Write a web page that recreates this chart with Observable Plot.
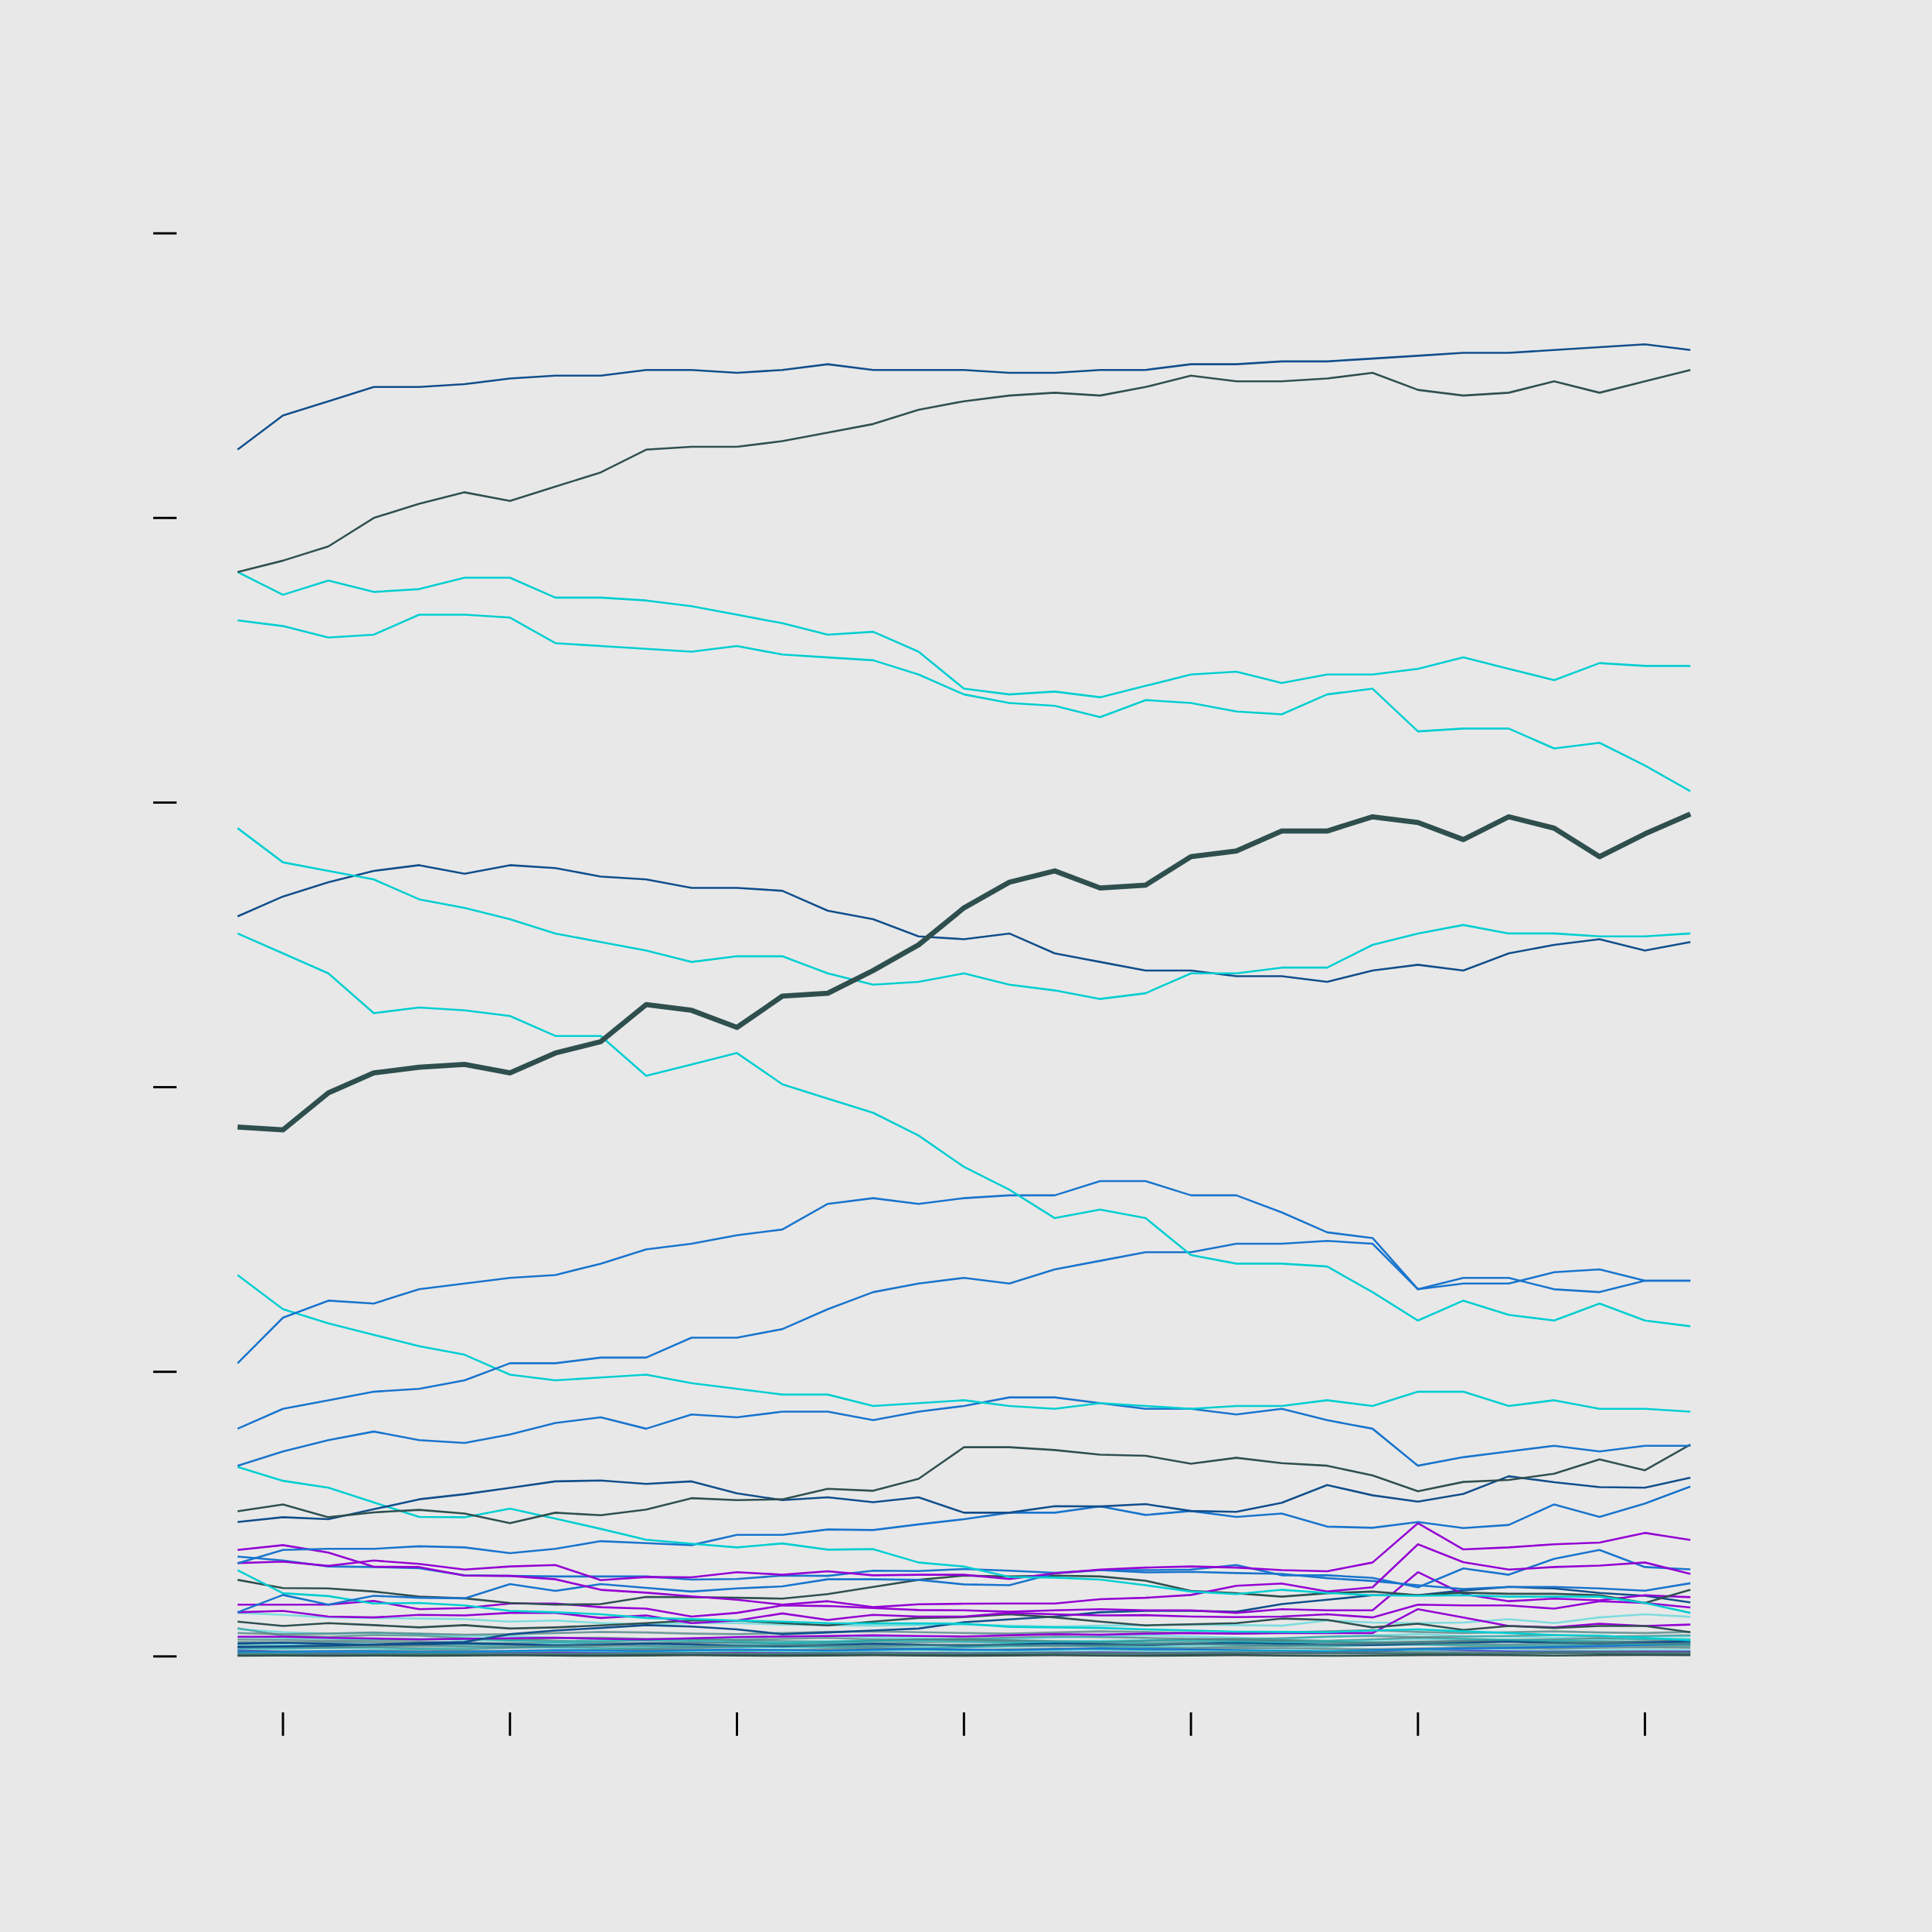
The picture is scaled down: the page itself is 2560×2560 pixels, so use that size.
<!DOCTYPE html>
<html><head><meta charset="utf-8">
<script src="https://cdn.jsdelivr.net/npm/d3@7"></script>
<script src="https://cdn.jsdelivr.net/npm/@observablehq/plot@0.6"></script>
<style>
html,body{margin:0;padding:0;background:#E8E8E8;}
#chart svg{display:block;}
</style></head><body><div id="chart"></div>
<script>
const years = [1984,1985,1986,1987,1988,1989,1990,1991,1992,1993,1994,1995,1996,1997,1998,1999,2000,2001,2002,2003,2004,2005,2006,2007,2008,2009,2010,2011,2012,2013,2014,2015,2016];
const xTicks = [1985,1990,1995,2000,2005,2010,2015];
const yTicks = [0,10,20,30,40,50];

const lineA = [42.4,43.6,44.1,44.6,44.6,44.7,44.9,45.0,45.0,45.2,45.2,45.1,45.2,45.4,45.2,45.2,45.2,45.1,45.1,45.2,45.2,45.4,45.4,45.5,45.5,45.6,45.7,45.8,45.8,45.9,46.0,46.1,45.9];
const lineB = [38.1,38.5,39.0,40.0,40.5,40.9,40.6,41.1,41.6,42.4,42.5,42.5,42.7,43.0,43.3,43.8,44.1,44.3,44.4,44.3,44.6,45.0,44.8,44.8,44.9,45.1,44.5,44.3,44.4,44.8,44.4,44.8,45.2];
const lineC = [38.1,37.3,37.8,37.4,37.5,37.9,37.9,37.2,37.2,37.1,36.9,36.6,36.3,35.9,36.0,35.3,34.0,33.8,33.9,33.7,34.1,34.5,34.6,34.2,34.5,34.5,34.7,35.1,34.7,34.3,34.9,34.8,34.8];
const lineD = [36.4,36.2,35.8,35.9,36.6,36.6,36.5,35.6,35.5,35.4,35.3,35.5,35.2,35.1,35.0,34.5,33.8,33.5,33.4,33.0,33.6,33.5,33.2,33.1,33.8,34.0,32.5,32.6,32.6,31.9,32.1,31.3,30.4];
const lineE = [18.6,18.5,19.8,20.5,20.7,20.8,20.5,21.2,21.6,22.9,22.7,22.1,23.2,23.3,24.1,25.0,26.3,27.2,27.6,27.0,27.1,28.1,28.3,29.0,29.0,29.5,29.3,28.7,29.5,29.1,28.1,28.9,29.6];
const lineF = [29.1,27.9,27.6,27.3,26.6,26.3,25.9,25.4,25.1,24.8,24.4,24.6,24.6,24.0,23.6,23.7,24.0,23.6,23.4,23.1,23.3,24.0,24.0,24.2,24.2,25.0,25.4,25.7,25.4,25.4,25.3,25.3,25.4];
const lineG = [26.0,26.7,27.2,27.6,27.8,27.5,27.8,27.7,27.4,27.3,27.0,27.0,26.9,26.2,25.9,25.3,25.2,25.4,24.7,24.4,24.1,24.1,23.9,23.9,23.7,24.1,24.3,24.1,24.7,25.0,25.2,24.8,25.1];
const lineH = [25.4,24.7,24.0,22.6,22.8,22.7,22.5,21.8,21.8,20.4,20.8,21.2,20.1,19.6,19.1,18.3,17.2,16.4,15.4,15.7,15.4,14.1,13.8,13.8,13.7,12.8,11.8,12.5,12.0,11.8,12.4,11.8,11.6];
const lineI = [10.3,11.9,12.5,12.4,12.9,13.1,13.3,13.4,13.8,14.3,14.5,14.8,15.0,15.9,16.1,15.9,16.1,16.2,16.2,16.7,16.7,16.2,16.2,15.6,14.9,14.7,12.9,13.3,13.3,12.9,12.8,13.2,13.2];
const lineJ = [8.0,8.7,9.0,9.3,9.4,9.7,10.3,10.3,10.5,10.5,11.2,11.2,11.5,12.2,12.8,13.1,13.3,13.1,13.6,13.9,14.2,14.2,14.5,14.5,14.6,14.5,12.9,13.1,13.1,13.5,13.6,13.2,13.2];
const lineK = [13.4,12.2,11.7,11.3,10.9,10.6,9.9,9.7,9.8,9.9,9.6,9.4,9.2,9.2,8.8,8.9,9.0,8.8,8.7,8.9,8.8,8.7,8.8,8.8,9.0,8.8,9.3,9.3,8.8,9.0,8.7,8.7,8.6];
const lineM = [6.7,7.2,7.6,7.9,7.6,7.5,7.8,8.2,8.4,8.0,8.5,8.4,8.6,8.6,8.3,8.6,8.8,9.1,9.1,8.9,8.7,8.7,8.5,8.7,8.3,8.0,6.7,7.0,7.2,7.4,7.2,7.4,7.4];
const lineN = [5.10,5.34,4.89,5.06,5.15,5.02,4.68,5.05,4.96,5.16,5.56,5.49,5.52,5.89,5.82,6.24,7.35,7.35,7.25,7.09,7.05,6.77,6.98,6.79,6.70,6.36,5.80,6.13,6.20,6.42,6.92,6.54,7.44];
const lineO = [4.72,4.89,4.82,5.17,5.52,5.70,5.92,6.15,6.18,6.06,6.15,5.73,5.49,5.59,5.42,5.59,5.05,5.05,5.28,5.27,5.35,5.11,5.08,5.40,6.02,5.66,5.44,5.71,6.33,6.12,5.95,5.93,6.28];
const lineL = [6.66,6.17,5.93,5.41,4.90,4.89,5.19,4.84,4.48,4.10,3.96,3.83,3.97,3.75,3.77,3.30,3.16,2.79,2.77,2.70,2.50,2.28,2.19,2.34,2.23,2.15,2.13,2.15,2.10,2.10,2.10,1.88,1.53];
const lineP = [3.27,3.74,3.78,3.78,3.87,3.83,3.63,3.78,4.05,3.98,3.91,4.27,4.27,4.46,4.44,4.64,4.82,5.05,5.05,5.27,4.97,5.11,4.90,5.02,4.56,4.52,4.72,4.51,4.62,5.34,4.90,5.37,5.97];
const lineQ = [3.74,3.91,3.65,3.15,3.14,2.84,2.83,2.71,2.34,2.24,2.11,1.99,1.82,1.94,1.73,1.83,1.85,1.86,1.86,2.01,2.06,2.16,2.48,2.56,2.28,2.43,3.94,3.31,3.05,3.14,3.19,3.30,2.90];
const lineS = [3.28,3.33,3.18,3.37,3.25,3.05,3.16,3.21,2.68,2.79,2.78,2.96,2.87,2.99,2.85,2.87,2.87,2.72,2.92,3.05,3.12,3.16,3.12,3.03,2.99,3.30,4.68,3.76,3.83,3.94,4.00,4.34,4.09];
const lineR = [3.51,3.37,3.16,3.14,3.10,2.85,2.83,2.81,2.81,2.81,2.70,2.72,2.84,2.83,3.01,3.00,3.07,3.01,2.94,3.03,3.03,3.05,3.21,2.85,2.85,2.76,2.43,3.09,2.87,3.43,3.74,3.14,3.06];
const lineW = [1.55,2.16,1.82,2.13,2.06,2.04,2.54,2.30,2.54,2.41,2.28,2.39,2.46,2.71,2.71,2.69,2.53,2.50,2.92,3.03,2.95,2.97,2.93,2.90,2.75,2.65,2.50,2.37,2.44,2.44,2.39,2.31,2.57];
const lineT = [3.03,2.22,2.12,1.86,1.88,1.79,1.60,1.55,1.48,1.35,1.31,1.26,1.22,1.17,1.16,1.16,1.15,1.04,1.02,1.00,0.95,0.91,0.87,0.86,0.85,0.91,0.95,0.88,0.82,0.75,0.73,0.65,0.57];
const lineU = [2.69,2.40,2.39,2.28,2.10,2.04,1.88,1.82,1.84,2.09,2.08,2.06,2.03,2.19,2.44,2.69,2.84,2.81,2.84,2.81,2.66,2.30,2.22,2.10,2.22,2.28,2.15,2.24,2.20,2.20,2.15,1.88,2.34];
const lineV = [1.82,1.82,1.82,1.95,1.66,1.70,1.86,1.86,1.73,1.68,1.40,1.53,1.79,1.77,1.70,1.63,1.62,1.57,1.62,1.66,1.62,1.62,1.53,1.66,1.62,1.62,2.96,2.19,1.94,2.03,1.97,2.15,2.08];
const lineX = [1.55,1.60,1.40,1.37,1.46,1.44,1.53,1.53,1.35,1.44,1.17,1.26,1.51,1.28,1.46,1.40,1.40,1.53,1.48,1.44,1.45,1.40,1.38,1.40,1.48,1.37,1.82,1.79,1.79,1.68,1.94,1.88,1.72];
const lineY = [1.22,1.07,1.17,1.10,1.02,1.10,0.98,1.02,1.09,1.17,1.26,1.26,1.17,1.09,1.22,1.35,1.38,1.48,1.37,1.22,1.09,1.13,1.17,1.33,1.28,1.02,1.15,0.93,1.07,1.00,1.07,1.07,0.85];
const lineDB = [0.33,0.35,0.38,0.42,0.47,0.51,0.78,0.91,1.00,1.10,1.05,0.95,0.78,0.84,0.91,0.98,1.20,1.30,1.40,1.55,1.60,1.60,1.57,1.84,1.99,2.15,2.15,2.32,2.44,2.39,2.23,2.13,1.90];
const lineLC = [1.53,1.46,1.37,1.35,1.33,1.31,1.22,1.26,1.17,1.13,1.17,1.17,1.12,1.10,1.08,1.10,1.12,1.08,1.05,1.08,1.10,1.12,1.10,1.08,1.26,1.19,1.17,1.19,1.31,1.17,1.37,1.48,1.39];
const lineDD = [0.69,0.69,0.65,0.63,0.60,0.62,0.64,0.66,0.62,0.60,0.64,0.68,0.70,0.72,0.74,0.72,0.70,0.74,0.78,0.76,0.80,0.82,0.80,0.82,0.82,0.82,1.66,1.37,1.07,1.02,1.15,1.07,1.12];
const low1 = [0.99,0.73,0.69,0.75,0.73,0.64,0.56,0.64,0.66,0.62,0.60,0.58,0.62,0.65,0.60,0.58,0.62,0.66,0.70,0.68,0.65,0.62,0.60,0.64,0.70,0.72,0.68,0.70,0.72,0.75,0.70,0.72,0.74];
const low2 = [0.96,0.85,0.80,0.82,0.78,0.70,0.72,0.66,0.60,0.58,0.62,0.66,0.70,0.72,0.68,0.64,0.60,0.62,0.66,0.70,0.74,0.70,0.66,0.62,0.68,0.74,0.78,0.72,0.70,0.66,0.64,0.70,0.72];
const low3 = [0.51,0.50,0.49,0.50,0.52,0.48,0.47,0.50,0.47,0.45,0.48,0.50,0.46,0.44,0.47,0.50,0.52,0.49,0.46,0.44,0.47,0.50,0.53,0.55,0.52,0.49,0.50,0.54,0.56,0.52,0.50,0.53,0.55];
const low4 = [0.33,0.35,0.38,0.40,0.42,0.44,0.40,0.38,0.42,0.47,0.51,0.48,0.45,0.50,0.55,0.60,0.58,0.55,0.52,0.50,0.55,0.60,0.62,0.58,0.55,0.60,0.66,0.62,0.58,0.60,0.64,0.60,0.58];
const low5 = [0.22,0.16,0.13,0.14,0.12,0.13,0.12,0.14,0.12,0.11,0.12,0.13,0.12,0.12,0.13,0.12,0.11,0.12,0.13,0.14,0.13,0.12,0.12,0.13,0.14,0.16,0.26,0.22,0.18,0.17,0.17,0.17,0.17];
const low6 = [0.30,0.28,0.30,0.32,0.28,0.26,0.30,0.33,0.30,0.27,0.29,0.32,0.35,0.33,0.30,0.28,0.32,0.36,0.38,0.35,0.32,0.30,0.34,0.38,0.36,0.40,0.42,0.38,0.35,0.37,0.40,0.38,0.36];
const low7 = [0.40,0.42,0.45,0.43,0.40,0.38,0.42,0.46,0.44,0.41,0.39,0.42,0.45,0.48,0.45,0.42,0.40,0.43,0.47,0.50,0.47,0.44,0.42,0.46,0.50,0.48,0.45,0.49,0.53,0.50,0.47,0.50,0.52];
const low8 = [0.05,0.06,0.05,0.06,0.07,0.06,0.05,0.06,0.07,0.08,0.07,0.06,0.07,0.08,0.09,0.08,0.07,0.08,0.09,0.10,0.09,0.08,0.09,0.10,0.11,0.10,0.09,0.10,0.11,0.12,0.11,0.10,0.11];
const low9 = [0.20,0.18,0.19,0.21,0.22,0.20,0.18,0.20,0.23,0.25,0.22,0.20,0.22,0.25,0.27,0.24,0.22,0.25,0.28,0.26,0.23,0.25,0.28,0.30,0.27,0.25,0.28,0.31,0.29,0.27,0.30,0.32,0.30];
const low10 = [0.15,0.16,0.18,0.17,0.15,0.16,0.19,0.22,0.20,0.18,0.21,0.24,0.22,0.20,0.23,0.26,0.24,0.22,0.25,0.28,0.26,0.24,0.22,0.20,0.18,0.22,0.25,0.28,0.30,0.33,0.36,0.40,0.44];
const low11 = [0.12,0.13,0.15,0.14,0.12,0.13,0.16,0.18,0.16,0.14,0.17,0.19,0.17,0.15,0.18,0.20,0.18,0.16,0.19,0.21,0.19,0.17,0.20,0.22,0.20,0.18,0.21,0.23,0.21,0.19,0.22,0.24,0.22];
const low12 = [0.08,0.09,0.10,0.09,0.08,0.10,0.11,0.10,0.09,0.11,0.12,0.11,0.10,0.12,0.13,0.12,0.11,0.13,0.14,0.13,0.12,0.14,0.15,0.14,0.13,0.15,0.16,0.15,0.14,0.16,0.17,0.16,0.15];
const low13 = [0.10,0.09,0.08,0.09,0.10,0.09,0.08,0.09,0.10,0.11,0.10,0.09,0.10,0.11,0.10,0.09,0.10,0.11,0.10,0.09,0.10,0.11,0.12,0.11,0.10,0.11,0.12,0.11,0.10,0.11,0.12,0.11,0.10];
const low14 = [0.60,0.58,0.55,0.57,0.60,0.62,0.58,0.55,0.53,0.56,0.59,0.57,0.54,0.52,0.55,0.58,0.60,0.57,0.54,0.52,0.55,0.58,0.56,0.53,0.50,0.48,0.52,0.55,0.58,0.56,0.53,0.50,0.48];
const low15 = [0.25,0.27,0.30,0.28,0.26,0.29,0.32,0.30,0.28,0.31,0.34,0.32,0.30,0.33,0.36,0.34,0.32,0.35,0.38,0.36,0.34,0.37,0.40,0.38,0.36,0.39,0.42,0.40,0.38,0.41,0.44,0.42,0.40];
const low16 = [0.02,0.03,0.02,0.03,0.02,0.03,0.04,0.03,0.02,0.03,0.04,0.03,0.02,0.03,0.04,0.03,0.02,0.03,0.04,0.03,0.02,0.03,0.04,0.03,0.02,0.03,0.04,0.05,0.04,0.03,0.04,0.05,0.04];
const low17 = [0.45,0.48,0.44,0.40,0.42,0.46,0.43,0.39,0.41,0.45,0.42,0.38,0.36,0.40,0.44,0.41,0.38,0.42,0.46,0.43,0.40,0.44,0.48,0.45,0.42,0.40,0.44,0.48,0.52,0.48,0.45,0.49,0.53];
const low18 = [0.82,0.78,0.80,0.84,0.80,0.76,0.78,0.82,0.86,0.84,0.80,0.78,0.82,0.86,0.88,0.85,0.82,0.80,0.84,0.88,0.86,0.82,0.80,0.84,0.88,0.92,0.86,0.82,0.85,0.88,0.84,0.82,0.86];
const low19 = [0.36,0.34,0.33,0.35,0.37,0.35,0.33,0.36,0.38,0.36,0.34,0.37,0.40,0.38,0.36,0.39,0.42,0.40,0.37,0.39,0.42,0.44,0.41,0.39,0.42,0.45,0.47,0.44,0.42,0.45,0.47,0.45,0.43];
const low20 = [0.68,0.64,0.62,0.60,0.62,0.58,0.55,0.52,0.54,0.57,0.55,0.52,0.50,0.53,0.56,0.54,0.51,0.49,0.52,0.55,0.58,0.55,0.52,0.50,0.53,0.57,0.60,0.62,0.59,0.56,0.58,0.61,0.63];

const seriesList = [
  ["low1","teal",low1],["low2","faintcyan",low2],["low3","teal",low3],["low4","teal",low4],
  ["low5","purple",low5],["low6","teal",low6],["low7","faintcyan",low7],["low8","slate",low8],
  ["low9","teal",low9],["low10","blue",low10],["low11","faintcyan",low11],["low12","teal",low12],
  ["low13","teal",low13],["low14","teal",low14],["low15","faintcyan",low15],["low16","slate",low16],
  ["low17","darkblue",low17],["low18","teal",low18],["low19","teal",low19],["low20","faintcyan",low20],
  ["LC","faintcyan",lineLC],["DD","purple",lineDD],["DB","darkblue",lineDB],["Y","slate",lineY],
  ["X","purple",lineX],["V","purple",lineV],["U","slate",lineU],["T","cyan",lineT],["W","blue",lineW],
  ["R","blue",lineR],["S","purple",lineS],["Q","purple",lineQ],["P","blue",lineP],["L","cyan",lineL],
  ["O","darkblue",lineO],["N","slate",lineN],["M","blue",lineM],["K","cyan",lineK],["J","blue",lineJ],
  ["I","blue",lineI],["H","cyan",lineH],["G","darkblue",lineG],["F","cyan",lineF],["D","cyan",lineD],
  ["C","cyan",lineC],["B","slate",lineB],["A","darkblue",lineA],["E","highlight",lineE]
];
const rows = seriesList.flatMap(([name, group, vals]) => vals.map((v, i) => ({name, group, year: years[i], value: v})));

const styles = {
  teal: {stroke: "#4A7F82", strokeWidth: 2.6, strokeOpacity: 0.75},
  faintcyan: {stroke: "#00CED1", strokeWidth: 2.6, strokeOpacity: 0.45},
  slate: {stroke: "#2F4F4F", strokeWidth: 2.6, strokeOpacity: 1},
  darkblue: {stroke: "#104E8B", strokeWidth: 2.6, strokeOpacity: 1},
  blue: {stroke: "#1874CD", strokeWidth: 2.6, strokeOpacity: 1},
  cyan: {stroke: "#00CED1", strokeWidth: 2.6, strokeOpacity: 1},
  purple: {stroke: "#9400D3", strokeWidth: 2.6, strokeOpacity: 1},
  highlight: {stroke: "#2F4F4F", strokeWidth: 6.8, strokeOpacity: 1}
};

const lineMarks = seriesList.map(([name, group]) =>
  Plot.line(rows.filter(d => d.name === name), {x: "year", y: "value", ...styles[group], strokeLinejoin: "round", strokeLinecap: "butt"})
);

const chart = Plot.plot({
  width: 2560, height: 2560,
  marginLeft: 234, marginRight: 240.4, marginTop: 234, marginBottom: 291,
  style: {background: "#E8E8E8"},
  x: {domain: [1982.665, 2017.335], axis: null},
  y: {domain: [-1.98, 51.98], axis: null},
  marks: [
    ...lineMarks,
    Plot.axisX(xTicks, {tickSize: 31, tickFormat: () => "", stroke: "#000", strokeWidth: 3, label: null}),
    Plot.axisY(yTicks, {tickSize: 31, tickFormat: () => "", stroke: "#000", strokeWidth: 3, label: null})
  ]
});
document.getElementById("chart").appendChild(chart);
</script></body></html>
